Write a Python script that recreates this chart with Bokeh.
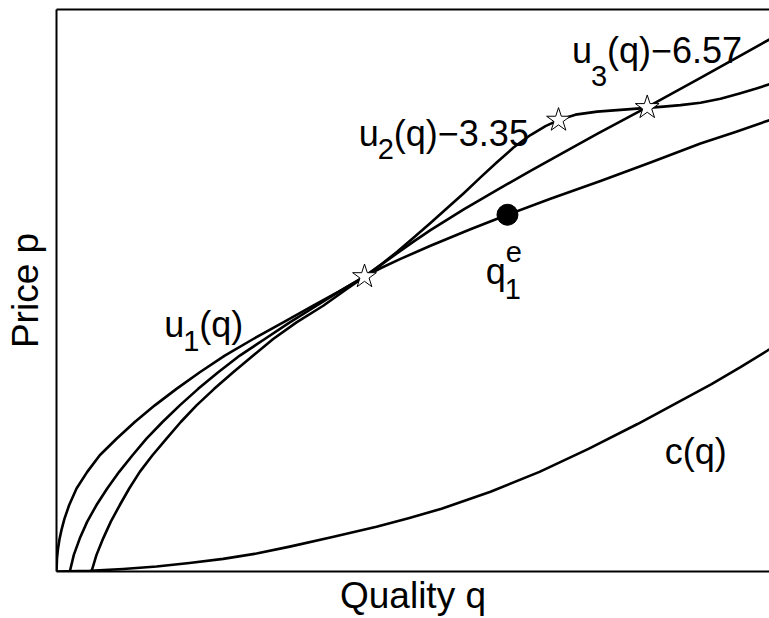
from bokeh.plotting import figure
from bokeh.models import FixedTicker, LinearAxis, Range1d
from bokeh.core.properties import value
from bokeh.embed import file_html
from bokeh.resources import INLINE

# ---- data (quality q on x, price p on y; arbitrary units) ----
u1_q = [0.000, 0.007, 0.021, 0.042, 0.070, 0.112, 0.178, 0.281, 0.431, 0.607, 0.842, 1.098, 1.379,
        1.683, 2.010, 2.360, 2.759, 3.180, 3.600, 4.021, 4.320, 4.544, 4.825, 5.245, 5.806, 6.325,
        6.928, 7.630, 8.331, 9.032, 9.523, 10.000]
u1_p = [0.000, 0.234, 0.406, 0.574, 0.741, 0.940, 1.183, 1.477, 1.773, 2.069, 2.363, 2.660, 2.956,
        3.250, 3.546, 3.842, 4.137, 4.433, 4.729, 5.023, 5.248, 5.395, 5.562, 5.796, 6.090, 6.348,
        6.631, 6.950, 7.278, 7.615, 7.819, 8.032]

u2_q = [0.187, 0.243, 0.327, 0.431, 0.561, 0.711, 0.879, 1.066, 1.262, 1.487, 1.729, 1.987, 2.268,
        2.571, 2.921, 3.272, 3.647, 4.021, 4.320, 4.544, 4.778, 5.007, 5.245, 5.484, 5.712, 5.947,
        6.181, 6.410, 6.648, 6.858, 7.041, 7.279, 7.583, 8.050, 8.513, 8.752, 9.032, 9.313, 9.593,
        9.804, 10.000]
u2_p = [0.000, 0.296, 0.590, 0.887, 1.183, 1.477, 1.773, 2.069, 2.363, 2.660, 2.956, 3.250, 3.546,
        3.842, 4.137, 4.433, 4.729, 5.023, 5.248, 5.452, 5.691, 5.940, 6.200, 6.472, 6.732, 7.012,
        7.287, 7.544, 7.766, 7.926, 8.032, 8.129, 8.183, 8.227, 8.271, 8.298, 8.342, 8.413, 8.511,
        8.590, 8.670]

u3_q = [0.491, 0.561, 0.655, 0.762, 0.888, 1.020, 1.168, 1.346, 1.543, 1.743, 1.964, 2.212, 2.478,
        2.759, 3.039, 3.366, 3.741, 4.067, 4.320, 4.544, 4.778, 5.007, 5.245, 5.712, 6.181, 6.648,
        7.115, 7.583, 8.285, 9.032, 10.000]
u3_p = [0.000, 0.296, 0.590, 0.887, 1.183, 1.477, 1.773, 2.069, 2.363, 2.660, 2.956, 3.250, 3.546,
        3.842, 4.137, 4.433, 4.729, 5.023, 5.248, 5.452, 5.665, 5.869, 6.073, 6.445, 6.791, 7.128,
        7.459, 7.787, 8.262, 8.785, 9.468]

c_q = [0.000, 0.467, 0.935, 1.403, 1.865, 2.338, 2.805, 3.272, 3.871, 4.488, 4.937, 5.400, 6.087,
       6.774, 7.461, 8.149, 8.668, 9.187, 9.593, 10.000]
c_p = [0.000, 0.012, 0.044, 0.089, 0.151, 0.225, 0.319, 0.443, 0.612, 0.798, 0.949, 1.117, 1.418,
       1.773, 2.181, 2.624, 2.979, 3.333, 3.635, 3.954]

star_q = [4.320, 7.041, 8.285]
star_p = [5.248, 8.032, 8.257]

eq_q = [6.325]
eq_p = [6.348]

# curve labels: base text, subscript, tail
lab_q = [1.51, 4.24, 7.23]
lab_p = [4.40, 7.80, 9.27]
lab_base = ["u", "u", "u"]
lab_sub = ["1", "2", "3"]
lab_tail = ["(q)", "(q)\u22123.35", "(q)\u22126.57"]
sub_drop = [17, 16, 25]

c_lab_q = [8.53]
c_lab_p = [2.14]
c_lab = ["c(q)"]

qe_q = [6.02]
qe_p = [5.34]

x_title = "Quality q"
y_title = "Price p"

FONT = value("Liberation Sans")

p = figure(width=769, height=618, x_range=Range1d(0, 10), y_range=Range1d(0, 10),
           x_axis_location=None, y_axis_location=None,
           output_backend="svg", toolbar_location=None,
           min_border_left=56, min_border_right=0, min_border_top=9, min_border_bottom=45)
p.background_fill_color = "white"
p.border_fill_color = "white"
p.outline_line_color = None
p.xgrid.visible = False
p.ygrid.visible = False

bottom_axis = LinearAxis(axis_label=x_title)
left_axis = LinearAxis(axis_label=y_title)
top_axis = LinearAxis()
p.add_layout(bottom_axis, "below")
p.add_layout(left_axis, "left")
p.add_layout(top_axis, "above")

for ax in [bottom_axis, left_axis, top_axis]:
    ax.ticker = FixedTicker(ticks=[])
    ax.major_tick_out = 0
    ax.major_tick_in = 0
    ax.minor_tick_out = 0
    ax.minor_tick_in = 0
    ax.axis_line_width = 2
    ax.axis_line_color = "black"
    ax.major_label_text_font_size = "0px"
    ax.major_label_standoff = 0

for ax in [bottom_axis, left_axis]:
    ax.axis_label_text_font = "Liberation Sans"
    ax.axis_label_text_font_size = "37px"
    ax.axis_label_text_font_style = "normal"
    ax.axis_label_text_color = "black"
bottom_axis.axis_label_standoff = 3
left_axis.axis_label_standoff = 11

LW = 2.6
for xs, ys in [(u1_q, u1_p), (u2_q, u2_p), (u3_q, u3_p), (c_q, c_p)]:
    p.line(xs, ys, line_color="black", line_width=LW, line_join="round", line_cap="round")

p.scatter(star_q, star_p, marker="star", size=25, fill_color="white", line_color="black", line_width=1)
p.scatter(eq_q, eq_p, marker="circle", size=21, fill_color="black", line_color="black")

main_kw = dict(text_font=FONT, text_font_size="36px", text_baseline="alphabetic", text_align="left", text_color="black")
sub_kw = dict(text_font=FONT, text_font_size="29px", text_baseline="alphabetic", text_align="left", text_color="black")

for i in range(3):
    p.text(x=[lab_q[i]], y=[lab_p[i]], text=[lab_base[i]], **main_kw)
    p.text(x=[lab_q[i]], y=[lab_p[i]], text=[lab_sub[i]], x_offset=19, y_offset=sub_drop[i], **sub_kw)
    p.text(x=[lab_q[i]], y=[lab_p[i]], text=[lab_tail[i]], x_offset=35, **main_kw)

p.text(x=c_lab_q, y=c_lab_p, text=c_lab, **main_kw)

p.text(x=qe_q, y=qe_p, text=["q"], **main_kw)
p.text(x=qe_q, y=qe_p, text=["e"], x_offset=20, y_offset=-19, **sub_kw)
p.text(x=qe_q, y=qe_p, text=["1"], x_offset=19, y_offset=18, **sub_kw)

open("out.html", "w").write(file_html(p, INLINE))
